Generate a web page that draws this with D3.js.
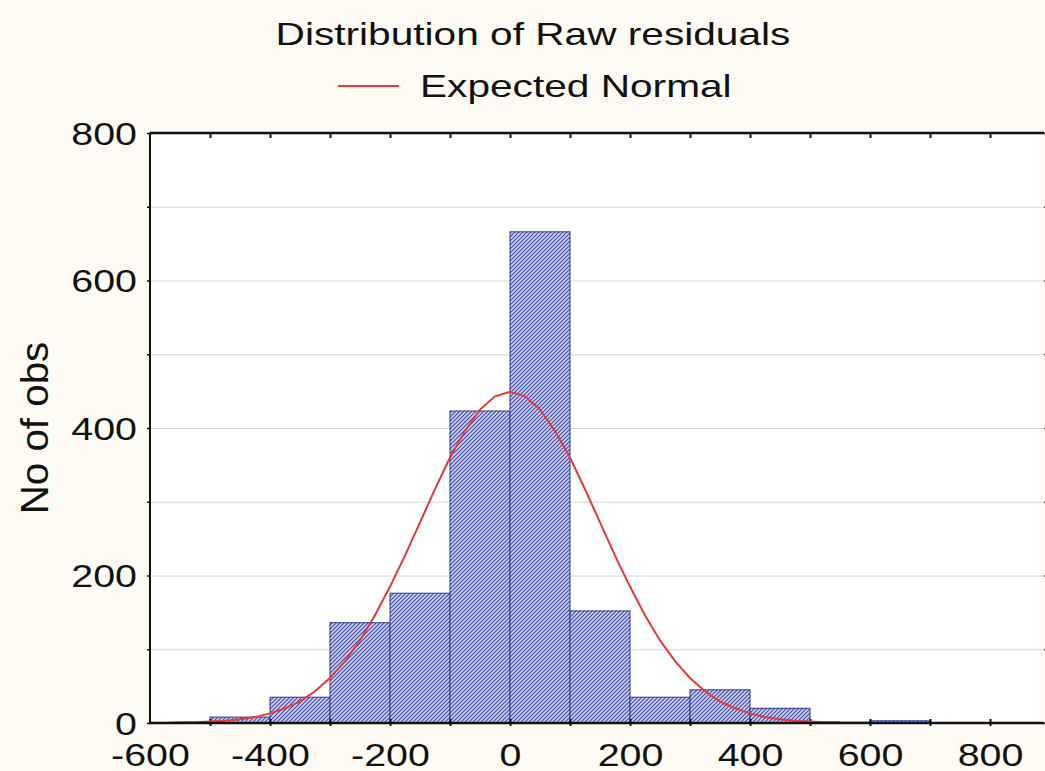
<!DOCTYPE html>
<html>
<head>
<meta charset="utf-8">
<script src="https://cdn.jsdelivr.net/npm/d3@7/dist/d3.min.js"></script>
<style>
  body { margin: 0; background: #fdfbf3; }
  svg { display: block; }
  text { font-family: "Liberation Sans", Arial, sans-serif; fill: #111; }
</style>
</head>
<body>
<div id="chart"></div>
<script>
// histogram bins (lower edge, width 100) and counts
var binStarts = [-500, -400, -300, -200, -100, 0, 100, 200, 300, 400, 500, 600];
var binCounts = [8, 35, 136, 176, 423, 666, 152, 35, 45, 20, 1, 3];

// expected normal curve
var curveX = [-600, -575, -550, -525, -500, -475, -450, -425, -400, -375, -350, -325,
              -300, -275, -250, -225, -200, -175, -150, -125, -100, -75, -50, -25,
              0, 25, 50, 75, 100, 125, 150, 175, 200, 225, 250, 275, 300, 325,
              350, 375, 400, 425, 450, 475, 500, 525, 550];
var curveY = [0, 0, 1, 1, 2, 3, 5, 8, 13, 20, 29, 43,
              61, 84, 112, 146, 185, 227, 272, 317, 360, 396, 425, 443,
              449, 443, 425, 396, 360, 317, 272, 227, 185, 146, 112, 84, 61, 43,
              29, 20, 13, 8, 5, 3, 2, 1, 1];

// ticks
var xTickLabels = [-600, -400, -200, 0, 200, 400, 600, 800];
var xMinorTicks = [-500, -400, -300, -200, -100, 0, 100, 200, 300, 400, 500, 600, 700, 800];
var yTickLabels = [0, 200, 400, 600, 800];
var yMinorTicks = [0, 100, 200, 300, 400, 500, 600, 700, 800];

var title = "Distribution of Raw residuals";
var legendLabel = "Expected Normal";
var yTitle = "No of obs";

var W = 1045, H = 771;
var margin = {top: 133, right: 1, bottom: 48, left: 150},
    width = W - margin.left - margin.right,
    height = H - margin.top - margin.bottom;
var sx = 1.27; // text in the picture is stretched sideways

var x = d3.scaleLinear().domain([-600, 890]).range([0, width]);
var y = d3.scaleLinear().domain([0, 800]).range([height, 0]);

var root = d3.select("#chart").append("svg")
    .attr("width", W)
    .attr("height", H);

// hatch pattern for the bars
var pat = root.append("defs").append("pattern")
    .attr("id", "hatch")
    .attr("patternUnits", "userSpaceOnUse")
    .attr("width", 4)
    .attr("height", 4);
pat.append("rect").attr("width", 4).attr("height", 4).attr("fill", "#cdd0ee");
pat.append("path")
    .attr("d", "M-1,1 l2,-2 M0,4 l4,-4 M3,5 l2,-2")
    .attr("stroke", "#4350a8")
    .attr("stroke-width", 1.2);

// title and legend
root.append("text")
    .attr("transform", "translate(533,45) scale(" + sx + ",1)")
    .attr("text-anchor", "middle")
    .style("font-size", "32px")
    .text(title);

root.append("line")
    .attr("x1", 338).attr("x2", 399)
    .attr("y1", 86).attr("y2", 86)
    .attr("stroke", "#e23b3b")
    .attr("stroke-width", 2);

root.append("text")
    .attr("transform", "translate(420,97) scale(" + sx + ",1)")
    .style("font-size", "32px")
    .text(legendLabel);

// y axis title
root.append("text")
    .attr("transform", "translate(48,428) rotate(-90) scale(1.3,1.23)")
    .attr("text-anchor", "middle")
    .style("font-size", "31px")
    .text(yTitle);

var svg = root.append("g")
    .attr("transform", "translate(" + margin.left + "," + margin.top + ")");

svg.append("rect")
    .attr("width", width)
    .attr("height", height)
    .attr("fill", "#fff");

// grid lines
var grid = svg.append("g")
    .call(d3.axisLeft(y).tickValues(yMinorTicks).tickSize(-width).tickFormat(""));
grid.select(".domain").remove();
grid.selectAll("line").attr("stroke", "#d6d6d6").attr("stroke-width", 1);

// bars
svg.selectAll(".bar")
    .data(binStarts)
  .enter().append("rect")
    .attr("class", "bar")
    .attr("x", function(d) { return x(d); })
    .attr("width", function(d) { return x(d + 100) - x(d); })
    .attr("y", function(d, i) { return y(binCounts[i]); })
    .attr("height", function(d, i) { return height - y(binCounts[i]); })
    .attr("fill", "url(#hatch)")
    .attr("stroke", "#2d3894")
    .attr("stroke-width", 1);

// axes frame
var bottomTicks = svg.append("g")
    .attr("transform", "translate(0," + height + ")")
    .call(d3.axisBottom(x).tickValues(xMinorTicks).tickSize(-5).tickFormat(""));
bottomTicks.selectAll("line").attr("stroke", "#111").attr("stroke-width", 2).attr("y2", 3).attr("y1", -4);
bottomTicks.select(".domain").remove();

var topTicks = svg.append("g")
    .call(d3.axisTop(x).tickValues(xMinorTicks).tickSize(-5).tickFormat(""));
topTicks.selectAll("line").attr("stroke", "#111").attr("stroke-width", 2);
topTicks.select(".domain").remove();

var leftTicks = svg.append("g")
    .call(d3.axisLeft(y).tickValues(yMinorTicks).tickSize(3).tickFormat(""));
leftTicks.selectAll("line").attr("stroke", "#111").attr("stroke-width", 1.5);
leftTicks.select(".domain").remove();

var rightTicks = svg.append("g")
    .attr("transform", "translate(" + width + ",0)")
    .call(d3.axisRight(y).tickValues(yMinorTicks).tickSize(2).tickFormat(""));
rightTicks.selectAll("line").attr("stroke", "#333").attr("stroke-width", 1.5);
rightTicks.select(".domain").remove();

// expected normal curve
var line = d3.line()
    .x(function(d, i) { return x(curveX[i]); })
    .y(function(d) { return y(d); });

svg.append("path")
    .datum(curveY)
    .attr("d", line)
    .attr("fill", "none")
    .attr("stroke", "#e43a3a")
    .attr("stroke-width", 2);

// frame lines
svg.append("line").attr("x1", 0).attr("x2", 0).attr("y1", 0).attr("y2", height)
    .attr("stroke", "#111").attr("stroke-width", 2);
svg.append("line").attr("x1", 0).attr("x2", width).attr("y1", 0).attr("y2", 0)
    .attr("stroke", "#111").attr("stroke-width", 2.5);
svg.append("line").attr("x1", -1).attr("x2", width).attr("y1", height).attr("y2", height)
    .attr("stroke", "#111").attr("stroke-width", 2.5);

// tick labels (plain hyphen for negatives, as in the picture)
var xLab = svg.append("g")
    .attr("transform", "translate(0," + height + ")")
    .call(d3.axisBottom(x).tickValues(xTickLabels).tickSize(0).tickPadding(21)
      .tickFormat(function(d) { return String(d); }));
xLab.select(".domain").remove();
xLab.selectAll("text")
    .style("font-size", "31px")
    .attr("fill", "#111")
    .attr("transform", "scale(" + sx + ",1)");

var yLab = svg.append("g")
    .call(d3.axisLeft(y).tickValues(yTickLabels).tickSize(0).tickPadding(0));
yLab.select(".domain").remove();
yLab.selectAll("text")
    .style("font-size", "31px")
    .attr("fill", "#111")
    .attr("x", -13 / sx)
    .attr("dy", "0.36em")
    .attr("transform", "scale(" + sx + ",1)");
</script>
</body>
</html>
